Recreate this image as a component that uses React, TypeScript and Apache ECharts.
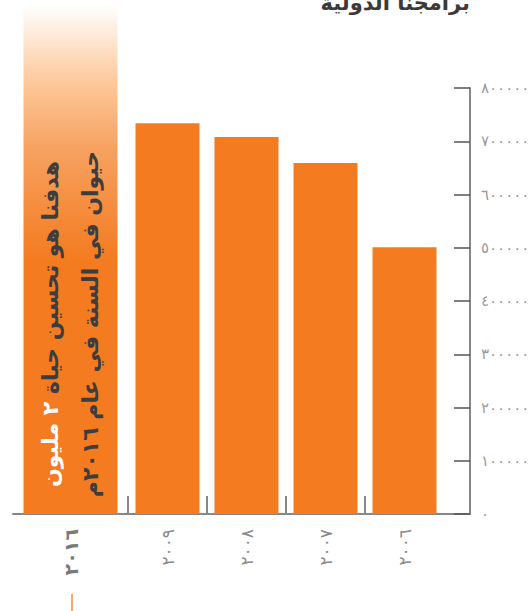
import React, { useEffect, useRef } from "react";
import * as echarts from "echarts";

// ---- data ----
const years: string[] = ["2006", "2007", "2008", "2009"];
const animalsHelped: number[] = [501000, 659000, 708000, 734000];
const targetYear: string[] = ["2016"];
const targetValue: number[] = [2000000];
const yMin = 0;
const yMax = 800000;
const yInterval = 100000;
const targetAxisMax = 2000000;

const title = "برامجنا الدولية";
const goalLine1White = "٢ مليون";
const goalLine1Dark = "هدفنا هو تحسين حياة";
const goalLine2 = "حيوان في السنة في عام ٢٠١٦م";

const AR_DIGITS = "٠١٢٣٤٥٦٧٨٩";
const toArabic = (v: string | number) =>
  String(v).replace(/[0-9]/g, (d) => AR_DIGITS[Number(d)]);

const FONT = "'DejaVu Sans', sans-serif";
const ORANGE = "#F47B20";
const AXIS_GREY = "#878787";

export default function App() {
  const ref = useRef<HTMLDivElement>(null);

  useEffect(() => {
    if (!ref.current) return;
    const chart = echarts.init(ref.current, undefined, { renderer: "svg" });

    const baseX = {
      type: "category" as const,
      axisLine: { show: true, lineStyle: { color: AXIS_GREY, width: 2 } },
      axisTick: { show: false },
      splitLine: { show: false },
    };

    chart.setOption({
      animation: false,
      backgroundColor: "#ffffff",
      textStyle: { fontFamily: FONT },
      grid: [
        { left: 128, width: 316, top: 88, height: 426, outerBoundsMode: "none" },
        { left: 13, width: 115, top: 5, height: 509, outerBoundsMode: "none" },
        { left: 444, width: 26, top: 88, height: 426, outerBoundsMode: "none" },
      ],
      xAxis: [
        {
          ...baseX,
          gridIndex: 0,
          inverse: true,
          data: years,
          axisTick: {
            show: true,
            inside: true,
            length: 18,
            interval: (i: number) => i !== 0,
            lineStyle: { color: AXIS_GREY, width: 2 },
          },
          axisLabel: {
            rotate: 90,
            margin: 15,
            color: "#8a8a8a",
            fontSize: 17,
            fontFamily: FONT,
            formatter: (v: string) => toArabic(v),
          },
        },
        {
          ...baseX,
          gridIndex: 1,
          data: targetYear,
          axisLabel: {
            rotate: 90,
            margin: 15,
            color: "#7a7a7a",
            fontSize: 19,
            fontWeight: "bold",
            fontFamily: FONT,
            formatter: (v: string) => toArabic(v),
          },
        },
        {
          ...baseX,
          gridIndex: 2,
          data: [""],
          axisLabel: { show: false },
        },
      ],
      yAxis: [
        { gridIndex: 0, type: "value", min: yMin, max: yMax, interval: yInterval, show: false },
        { gridIndex: 1, type: "value", min: yMin, max: targetAxisMax, show: false },
        {
          gridIndex: 2,
          type: "value",
          position: "right",
          min: yMin,
          max: yMax,
          interval: yInterval,
          axisLine: { show: true, lineStyle: { color: AXIS_GREY, width: 2 } },
          axisTick: { show: true, inside: true, length: 16, lineStyle: { color: "#555555", width: 1.5 } },
          splitLine: { show: false },
          axisLabel: {
            margin: 11,
            color: "#9a9a9a",
            fontSize: 15,
            fontFamily: FONT,
            formatter: (v: number) => toArabic(v),
          },
        },
      ],
      series: [
        {
          type: "bar",
          xAxisIndex: 0,
          yAxisIndex: 0,
          data: animalsHelped,
          barWidth: 64,
          itemStyle: { color: ORANGE },
        },
        {
          type: "bar",
          xAxisIndex: 1,
          yAxisIndex: 1,
          data: targetValue,
          barWidth: 94,
          itemStyle: {
            color: new echarts.graphic.LinearGradient(0, 0, 0, 1, [
              { offset: 0, color: "#ffffff" },
              { offset: 0.15, color: "#fdc99c" },
              { offset: 0.28, color: "#f7a261" },
              { offset: 0.5, color: ORANGE },
              { offset: 1, color: ORANGE },
            ]),
          },
        },
      ],
      graphic: [
        {
          type: "text",
          x: 470,
          y: 3,
          z: 100,
          style: {
            text: title,
            align: "right",
            verticalAlign: "middle",
            fill: "#3a3a3a",
            font: `bold 21px ${FONT}`,
          },
        },
        {
          type: "text",
          x: 70,
          y: 324,
          z: 100,
          rotation: Math.PI / 2,
          style: {
            text: `{w|${goalLine1White}}{d|${goalLine1Dark}}\n{d|${goalLine2}}`,
            align: "center",
            verticalAlign: "middle",
            rich: {
              w: {
                fill: "#ffffff",
                fontSize: 22,
                fontWeight: "bold",
                fontFamily: FONT,
                lineHeight: 40,
                padding: [0, 8, 0, 0],
              },
              d: {
                fill: "#3d3d3d",
                fontSize: 22,
                fontWeight: "bold",
                fontFamily: FONT,
                lineHeight: 40,
              },
            },
          },
        },
        {
          type: "line",
          z: 100,
          shape: { x1: 72, y1: 594, x2: 72, y2: 611 },
          style: { stroke: "#f9a86a", lineWidth: 2 },
        },
      ],
    });

    return () => chart.dispose();
  }, []);

  return (
    <div
      ref={ref}
      style={{ position: "fixed", left: 0, top: 0, width: 532, height: 611 }}
    />
  );
}
